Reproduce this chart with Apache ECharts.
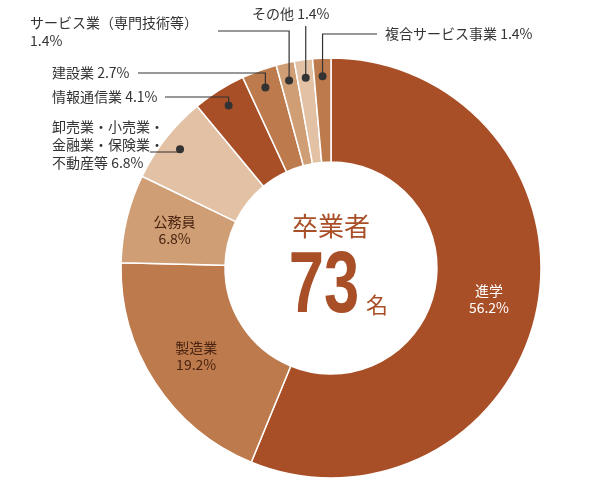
<!DOCTYPE html>
<html><head><meta charset="utf-8">
<script src="https://cdn.jsdelivr.net/npm/echarts@6/dist/echarts.min.js"></script>
<style>html,body{margin:0;background:#fff}#c{width:600px;height:500px}</style>
</head><body><div id="c"></div>
<script>
const names = ['進学', '製造業', '公務員', '卸売業・小売業・\n金融業・保険業・\n不動産等', '情報通信業', '建設業', 'サービス業（専門技術等）', 'その他', '複合サービス事業'];
const values = [56.2, 19.2, 6.8, 6.8, 4.1, 2.7, 1.4, 1.4, 1.4];
const colors = ['#a84f27', '#bd7a4c', '#cf9e75', '#e2c1a5', '#a84f27', '#bd7a4c', '#cf9e75', '#e2c1a5', '#bd7a4c'];
const inside = [true, true, true, false, false, false, false, false, false];
// outside label text anchors
const outLabels = {
  3: { text: '卸売業・小売業・\n金融業・保険業・\n不動産等 6.8%', x: 52, y: 118, lx: 150, ly: 152 },
  4: { text: '情報通信業 4.1%', x: 52, y: 88, lx: 165, ly: 97 },
  5: { text: '建設業 2.7%', x: 52, y: 64, lx: 138, ly: 73 },
  6: { text: 'サービス業（専門技術等）\n1.4%', x: 30, y: 14, lx: 218, ly: 31 },
  7: { text: 'その他 1.4%', x: 252, y: 5, lx: null, ly: 26 },
  8: { text: '複合サービス事業 1.4%', x: 385, y: 25, lx: 377, ly: 34 }
};
const cx = 331, cy = 268, dotR = 192;
const font = '"Noto Sans CJK JP", sans-serif';

const chart = echarts.init(document.getElementById('c'));
const graphics = [];
const total = values.reduce((a, b) => a + b, 0);
let cum = 0;
values.forEach((v, i) => {
  const mid = (cum + v / 2) / total * Math.PI * 2;
  cum += v;
  const o = outLabels[i];
  if (!o) return;
  const dx = cx + dotR * Math.sin(mid), dy = cy - dotR * Math.cos(mid);
  graphics.push({ type: 'circle', shape: { cx: dx, cy: dy, r: 4 }, style: { fill: '#333' }, z: 10 });
  const pts = o.lx === null ? [[dx, o.ly], [dx, dy]] : [[o.lx, o.ly], [dx, o.ly], [dx, dy]];
  graphics.push({ type: 'polyline', shape: { points: pts }, style: { stroke: '#333', lineWidth: 1.2, fill: null }, z: 10 });
  graphics.push({ type: 'text', x: o.x, y: o.y, style: { text: o.text, font: '14px ' + font, fill: '#333', lineHeight: 18 }, z: 10 });
});
graphics.push(
  { type: 'text', x: cx, y: 226, style: { text: '卒業者', font: '26px ' + font, fill: '#a84f27', align: 'center', verticalAlign: 'middle' } },
  { type: 'text', x: 324, y: 288, scaleX: 0.72, originX: 0, style: { text: '73', font: 'bold 88px "Liberation Sans Narrow", sans-serif', fill: '#a84f27', align: 'center', verticalAlign: 'middle' } },
  { type: 'text', x: 377, y: 305, style: { text: '名', font: '22px ' + font, fill: '#a84f27', align: 'center', verticalAlign: 'middle' } }
);

chart.setOption({
  animation: false,
  graphic: graphics,
  series: [{
    type: 'pie',
    center: [cx, cy],
    radius: [106, 210],
    startAngle: 90,
    clockwise: true,
    itemStyle: { borderColor: '#fff', borderWidth: 1.5 },
    label: { show: false },
    labelLine: { show: false },
    data: names.map((n, i) => ({
      name: n, value: values[i],
      itemStyle: { color: colors[i] },
      label: {
        show: inside[i], position: 'inside',
        formatter: '{b}\n{c}%',
        color: i === 0 ? '#fff' : '#4a2410',
        fontSize: 14, lineHeight: 17, fontFamily: font
      }
    }))
  }]
});
</script></body></html>
